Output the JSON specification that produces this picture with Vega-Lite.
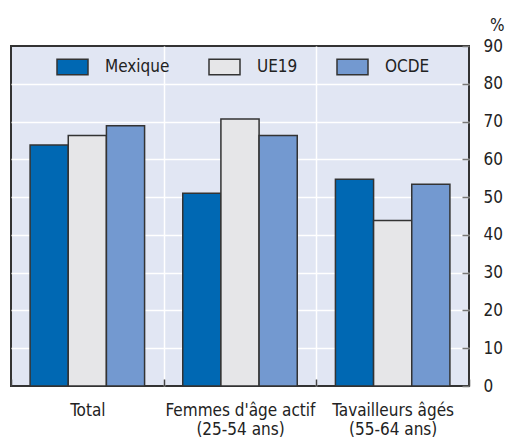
{
  "$schema": "https://vega.github.io/schema/vega-lite/v6.json",
  "width": 458,
  "height": 340,
  "autosize": "none",
  "padding": {"left": 11, "top": 46, "right": 36, "bottom": 53},
  "background": "white",
  "config": {
    "font": "DejaVu Sans Condensed, sans-serif",
    "view": {"fill": "#E1E6F3", "stroke": "#333333", "strokeWidth": 2}
  },
  "data": {
    "values": [
      {"cat": "Total", "series": "Mexique", "v": 63.8},
      {"cat": "Total", "series": "UE19", "v": 66.3},
      {"cat": "Total", "series": "OCDE", "v": 68.9},
      {"cat": "Femmes d'âge actif|(25-54 ans)", "series": "Mexique", "v": 51.0},
      {"cat": "Femmes d'âge actif|(25-54 ans)", "series": "UE19", "v": 70.7},
      {"cat": "Femmes d'âge actif|(25-54 ans)", "series": "OCDE", "v": 66.3},
      {"cat": "Tavailleurs âgés|(55-64 ans)", "series": "Mexique", "v": 54.7},
      {"cat": "Tavailleurs âgés|(55-64 ans)", "series": "UE19", "v": 43.8},
      {"cat": "Tavailleurs âgés|(55-64 ans)", "series": "OCDE", "v": 53.4}
    ]
  },
  "mark": {"type": "bar", "stroke": "#333333", "strokeWidth": 1.5},
  "encoding": {
    "x": {
      "field": "cat",
      "type": "nominal",
      "sort": null,
      "scale": {"paddingInner": 0, "paddingOuter": 0},
      "axis": {
        "title": null,
        "tickBand": "extent",
        "grid": true,
        "gridColor": "white",
        "gridWidth": 1.5,
        "gridOpacity": {"condition": {"test": "datum.extra || datum.index === 1", "value": 0}, "value": 1},
        "tickSize": -7,
        "tickColor": "#444444",
        "tickWidth": 1.5,
        "domain": false,
        "labelAngle": 0,
        "labelExpr": "split(datum.label, '|')",
        "labelFontSize": 17,
        "labelColor": "#222222",
        "labelLineHeight": 19,
        "labelPadding": 23,
        "labelLimit": 0
      }
    },
    "xOffset": {
      "field": "series",
      "sort": ["Mexique", "UE19", "OCDE"],
      "scale": {"paddingInner": 0, "paddingOuter": 0.5}
    },
    "y": {
      "field": "v",
      "type": "quantitative",
      "scale": {"domain": [0, 90], "nice": false},
      "axis": {
        "orient": "right",
        "values": [0, 10, 20, 30, 40, 50, 60, 70, 80, 90],
        "title": "%",
        "titleAngle": 0,
        "titleX": 35,
        "titleY": -16,
        "titleAlign": "right",
        "titleBaseline": "alphabetic",
        "titleFontSize": 17,
        "titleFontWeight": "normal",
        "titleColor": "#222222",
        "grid": true,
        "gridColor": "white",
        "gridWidth": 1.5,
        "gridOpacity": {"condition": {"test": "datum.value === 0 || datum.value === 90", "value": 0}, "value": 1},
        "tickSize": -7,
        "tickColor": "#777777",
        "tickWidth": 1.5,
        "domain": false,
        "labelFontSize": 17,
        "labelColor": "#222222",
        "labelPadding": 21,
        "labelAlign": "left",
        "labelBaseline": "middle"
      }
    },
    "color": {
      "field": "series",
      "type": "nominal",
      "sort": ["Mexique", "UE19", "OCDE"],
      "scale": {"domain": ["Mexique", "UE19", "OCDE"], "range": ["#0068B3", "#E6E6E8", "#7399D0"]},
      "legend": {
        "title": null,
        "orient": "none",
        "legendX": 45,
        "legendY": 4,
        "direction": "horizontal",
        "symbolType": "M-1,-0.5H1V0.5H-1Z",
        "symbolSize": 961,
        "symbolStrokeColor": "#333333",
        "symbolStrokeWidth": 1.5,
        "symbolOpacity": 1,
        "labelFontSize": 17,
        "labelColor": "#222222",
        "labelOffset": 16,
        "columnPadding": 36,
        "padding": 0,
        "labelLimit": 0
      }
    }
  }
}
